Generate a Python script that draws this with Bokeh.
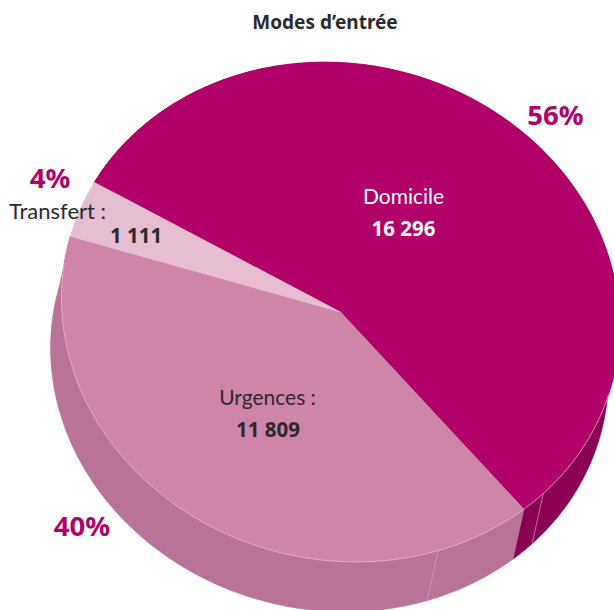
import numpy as np
from bokeh.plotting import figure
from bokeh.models import Range1d
from bokeh.core.properties import value
from bokeh.embed import file_html
from bokeh.resources import INLINE

categories = ["Domicile", "Urgences", "Transfert"]
values = [16296, 11809, 1111]
percent_labels = ["56%", "40%", "4%"]
value_labels = ["16 296", "11 809", "1 111"]
name_labels = ["Domicile", "Urgences :", "Transfert :"]
title = "Modes d\u2019entr\u00e9e"
top_colors = ["#b1006a", "#cf85aa", "#e7bdd1"]
side_colors = ["#8a0055", "#ba7398", "#e7bdd1"]
seam_angles = [-43.4, -69.5]

W, H = 614, 610
CX, CY, RX, RY = 340, 311.5, 279, 249.5
DX, DY = -11 / RX, -50 / RY
TILT = -14 / RY
START = 151.9


def X(px):
    return (px - CX) / RX


def Y(py):
    return (CY - py) / RY


def rim_xy(deg):
    t = np.radians(deg)
    return np.cos(t), np.sin(t) + TILT * np.cos(t)


p = figure(width=W, height=H, output_backend="svg", toolbar_location=None,
           x_range=Range1d(X(0), X(W)), y_range=Range1d(Y(H), Y(0)),
           min_border=0)
p.axis.visible = False
p.grid.visible = False
p.outline_line_color = None

shares = np.array(values, float) / sum(values) * 360
a0 = START
for i, (share, side) in enumerate(zip(shares, side_colors)):
    x, y = rim_xy(np.linspace(a0, a0 - share, 240))
    if categories[i] != "Transfert":
        p.patch(np.r_[x, x[::-1] + DX], np.r_[y, y[::-1] + DY],
                fill_color=side, line_color=side, line_width=0.5)
    a0 -= share

a0 = START
for share, top in zip(shares, top_colors):
    x, y = rim_xy(np.linspace(a0, a0 - share, 240))
    p.patch(np.r_[0, x], np.r_[0, y], fill_color=top, line_color=top, line_width=0.3)
    a0 -= share

# thin light rim on the front of the top face, and the seams of the wall
x, y = rim_xy(np.linspace(-16, -188, 300))
p.line(x, y, line_color="#e8bcd2", line_width=0.7)
for a in seam_angles:
    sx, sy = rim_xy(a)
    p.line([sx, sx + DX], [sy, sy + DY], line_color="#d9a0bf", line_width=0.7)


def txt(px, py, s, color, size, style="normal", font="Lato"):
    p.text([X(px)], [Y(py)], text=[s], text_color=color, text_font=value(font),
           text_font_size=f"{size}px", text_font_style=style,
           text_align="center", text_baseline="middle")


MAG = "#b1006a"
DARK = "#2a2a2e"
BF = "Noto Sans"
txt(324.5, 21.5, title, DARK, 19, "bold", BF)
txt(555, 114, percent_labels[0], MAG, 27.5, "bold", BF)
txt(81.5, 525, percent_labels[1], MAG, 27.5, "bold", BF)
txt(49.5, 177, percent_labels[2], MAG, 27.5, "bold", BF)
txt(403, 195, name_labels[0], "#ffffff", 21)
txt(403, 227, value_labels[0], "#ffffff", 20.5, "bold", BF)
txt(267, 396, name_labels[1], DARK, 21)
txt(267.5, 428, value_labels[1], DARK, 20.5, "bold", BF)
txt(57, 210, name_labels[2], DARK, 22)
txt(135.5, 234, value_labels[2], DARK, 20.5, "bold", BF)

open("out.html", "w").write(file_html(p, INLINE))
